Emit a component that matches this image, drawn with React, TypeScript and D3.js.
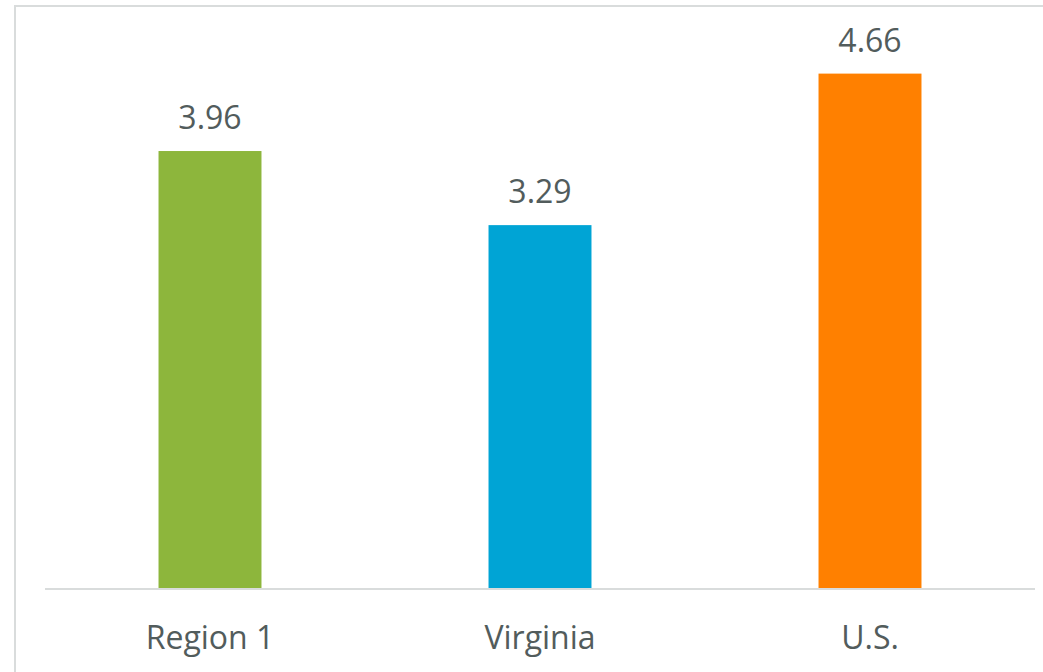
import React, { useEffect, useRef } from "react";
import * as d3 from "d3";

const categories = ["Region 1", "Virginia", "U.S."];
const values = [3.96, 3.29, 4.66];
const colors = ["#8DB63C", "#00A4D5", "#FF8000"];

const App = () => {
  const svgRef = useRef<SVGSVGElement>(null);
  const width = 1043;
  const height = 672;

  useEffect(() => {
    const svg = d3.select(svgRef.current);
    svg.selectAll("*").remove();

    const margin = { left: 45, right: 8, top: 36, bottom: 83 };
    const base = height - margin.bottom;

    // chart border (cropped at right/bottom)
    svg.append("rect")
      .attr("x", 15)
      .attr("y", 6)
      .attr("width", width + 10)
      .attr("height", height + 10)
      .attr("fill", "white")
      .attr("stroke", "#d9dcdc")
      .attr("stroke-width", 2);

    const x = d3.scaleBand()
      .domain(categories)
      .range([margin.left, width - margin.right])
      .paddingInner(0.688)
      .paddingOuter(0.344);

    const y = d3.scaleLinear()
      .domain([0, 5])
      .range([base, margin.top]);

    const font = "'Open Sans', 'Segoe UI', sans-serif";

    // bars
    svg.selectAll("rect.bar")
      .data(values)
      .join("rect")
      .attr("class", "bar")
      .attr("x", (_, i) => x(categories[i])!)
      .attr("y", d => y(d))
      .attr("width", x.bandwidth())
      .attr("height", d => base - y(d))
      .attr("fill", (_, i) => colors[i]);

    // x axis line
    svg.append("line")
      .attr("x1", margin.left)
      .attr("x2", width - margin.right)
      .attr("y1", base)
      .attr("y2", base)
      .attr("stroke", "#d9dcdc")
      .attr("stroke-width", 2);

    // value labels
    svg.selectAll("text.value")
      .data(values)
      .join("text")
      .attr("class", "value")
      .attr("x", (_, i) => x(categories[i])! + x.bandwidth() / 2)
      .attr("y", d => y(d) - 22)
      .attr("text-anchor", "middle")
      .attr("font-family", font)
      .attr("font-size", 32)
      .attr("fill", "#525c5c")
      .text(d => d.toFixed(2));

    // category labels
    svg.selectAll("text.cat")
      .data(categories)
      .join("text")
      .attr("class", "cat")
      .attr("x", d => x(d)! + x.bandwidth() / 2)
      .attr("y", 649)
      .attr("text-anchor", "middle")
      .attr("font-family", font)
      .attr("font-size", 32)
      .attr("fill", "#525c5c")
      .text(d => d);
  }, []);

  return (
    <div style={{ position: "absolute", left: 0, top: 0 }}>
      <svg ref={svgRef} width={width} height={height} style={{ display: "block" }} />
    </div>
  );
};

export default App;
